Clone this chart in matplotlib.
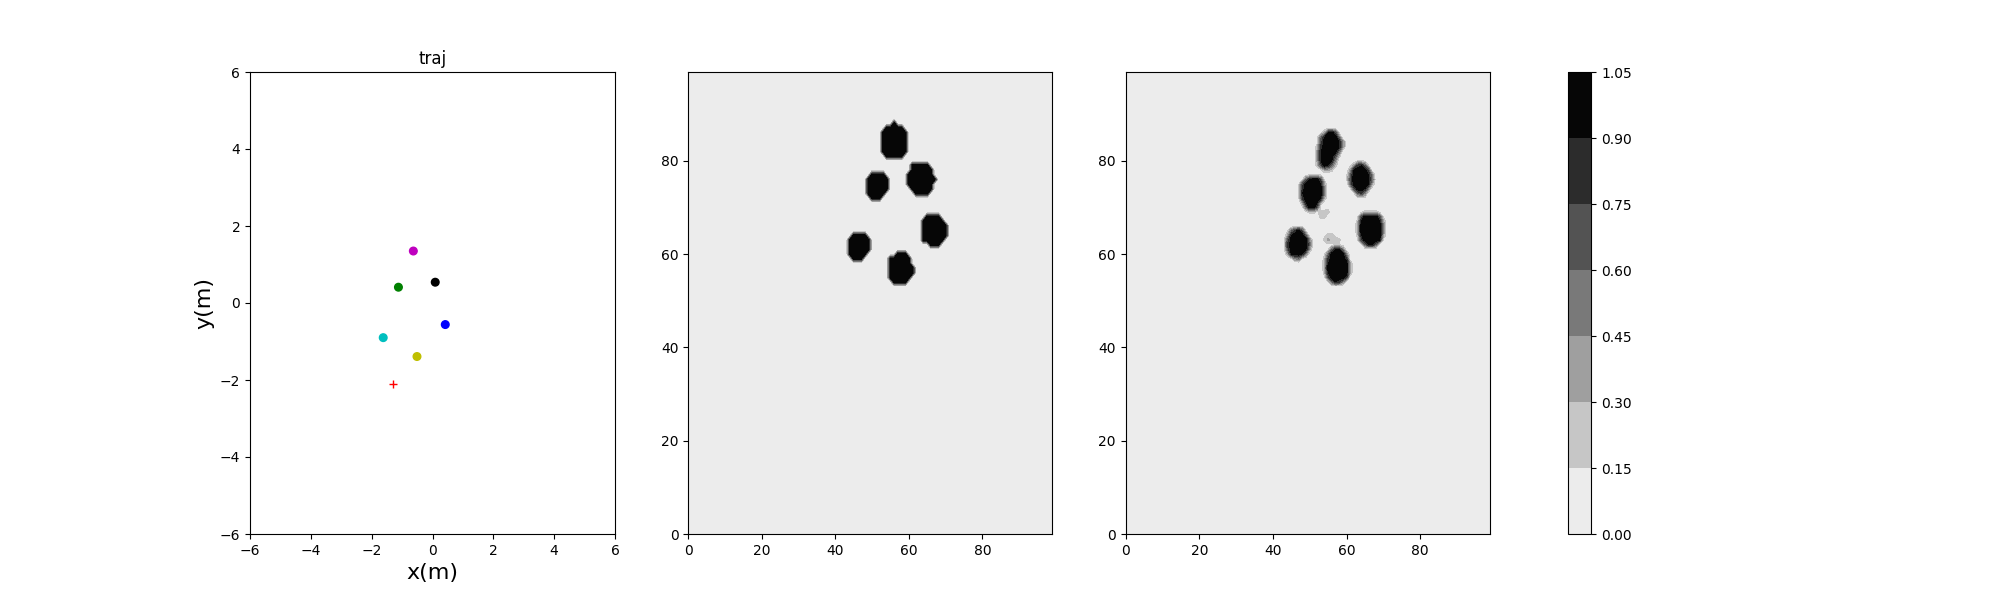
import numpy as np
import matplotlib
matplotlib.use('Agg')
import matplotlib.pyplot as plt

# agent positions at the last step of the trajectory
agent_x = [0.09, 0.42, -1.62, -1.12, -0.63, -0.51]
agent_y = [0.54, -0.56, -0.90, 0.41, 1.35, -1.39]
agent_colors = ['k', 'b', 'c', 'g', 'm', 'y']
target_x = [-1.29]
target_y = [-2.10]

contour_levels = [0.0, 0.15, 0.30, 0.45, 0.60, 0.75, 0.90, 1.05]

# occupied cells of the left map: (row, first column, last column)
truth_spans = [
    (88, 56, 56), (87, 54, 58), (86, 53, 59), (85, 53, 59), (84, 53, 59), (83, 53, 59), (82, 53, 59), (81, 54, 58),
    (79, 61, 65), (78, 61, 66), (77, 60, 66), (76, 60, 67), (75, 60, 66), (74, 61, 66), (73, 62, 65),
    (77, 50, 53), (76, 49, 54), (75, 49, 54), (74, 49, 54), (73, 49, 53), (72, 50, 52),
    (68, 65, 68), (67, 64, 69), (66, 64, 70), (65, 64, 70), (64, 64, 70), (63, 64, 69), (62, 66, 68),
    (64, 45, 48), (63, 44, 49), (62, 44, 49), (61, 44, 49), (60, 44, 48), (59, 45, 47),
    (60, 57, 59), (59, 55, 60), (58, 55, 60), (57, 55, 61), (56, 55, 61), (55, 55, 60), (54, 56, 59),
]

# values of the right map in ninths: (row, first column, digits)
pred_rows = [
    (87, 55, '111'), (86, 53, '138961'), (85, 52, '1589995'), (84, 52, '16999984'), (83, 52, '27999984'),
    (82, 52, '3899995'), (81, 52, '3899962'), (80, 52, '389984'), (79, 52, '269852'), (78, 53, '1332'),
    (80, 63, '111'), (79, 61, '137851'), (78, 61, '389996'), (77, 60, '15999984'), (76, 60, '16999985'),
    (75, 61, '5999983'), (74, 61, '169984'), (73, 62, '1574'), (72, 63, '111'),
    (77, 49, '11111'), (76, 48, '1589961'), (75, 47, '16999983'), (74, 47, '17999994'), (73, 47, '18999994'),
    (72, 47, '17999983'), (71, 48, '389983'), (70, 48, '15996'), (69, 49, '1221'),
    (70, 55, '1'), (69, 53, '222'), (68, 53, '22'),
    (64, 54, '1221'), (63, 54, '23222'), (62, 55, '11'),
    (69, 64, '122221'), (68, 63, '16999961'), (67, 63, '28999983'), (66, 63, '39999994'), (65, 63, '39999994'),
    (64, 63, '28999993'), (63, 63, '16999981'), (62, 64, '15885'),
    (66, 46, '111'), (65, 44, '157961'), (64, 44, '389995'), (63, 43, '16999994'), (62, 43, '17999995'),
    (61, 43, '16999983'), (60, 44, '389984'), (59, 45, '1451'),
    (62, 56, '1111'), (61, 55, '15884'), (60, 54, '1599994'), (59, 54, '2799997'), (58, 54, '38999993'),
    (57, 54, '39999993'), (56, 54, '28999993'), (55, 54, '1699997'), (54, 55, '15874'),
]


def grid_from_spans(spans):
    z = np.zeros((100, 100))
    for row, first, last in spans:
        z[row, first:last + 1] = 1.0
    return z


def grid_from_rows(rows):
    z = np.zeros((100, 100))
    for row, first, digits in rows:
        for k, d in enumerate(digits):
            z[row, first + k] = int(d) / 9.0
    return z


fig = plt.figure(figsize=(20, 6), dpi=100)

ax1 = fig.add_axes([0.125, 0.11, 0.1825, 0.77])
ax1.scatter(agent_x, agent_y, c=agent_colors, s=30)
ax1.plot(target_x, target_y, 'r+')
ax1.set_xlim(-6, 6)
ax1.set_ylim(-6, 6)
ax1.set_xlabel('x(m)', fontsize=16)
ax1.set_ylabel('y(m)', fontsize=16)
ax1.set_title('traj')

xs = np.arange(100)
ax2 = fig.add_axes([0.3442, 0.11, 0.1819, 0.77])
cs = ax2.contourf(xs, xs, grid_from_spans(truth_spans), levels=contour_levels, cmap='gray_r', vmin=0, vmax=1)
ax2.set_xticks(range(0, 100, 20))
ax2.set_yticks(range(0, 100, 20))

ax3 = fig.add_axes([0.5628, 0.11, 0.1823, 0.77])
ax3.contourf(xs, xs, grid_from_rows(pred_rows), levels=contour_levels, cmap='gray_r', vmin=0, vmax=1)
ax3.set_xticks(range(0, 100, 20))
ax3.set_yticks(range(0, 100, 20))

cax = fig.add_axes([0.7842, 0.11, 0.0115, 0.77])
fig.colorbar(cs, cax=cax)

plt.savefig('out.png')
